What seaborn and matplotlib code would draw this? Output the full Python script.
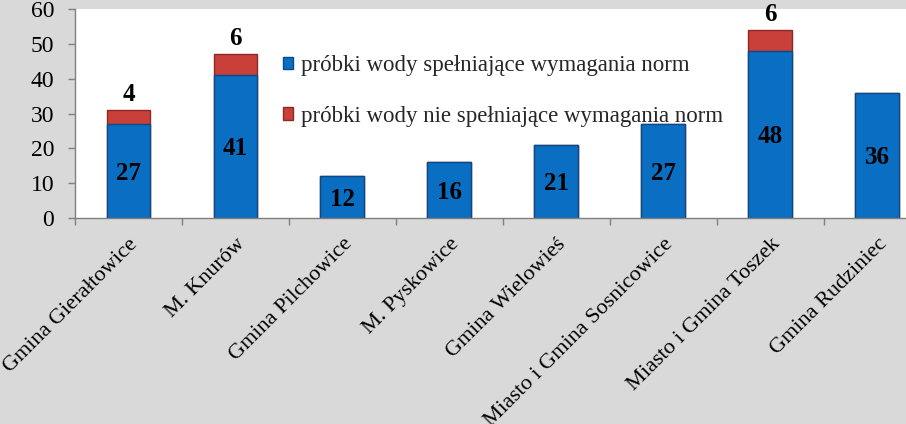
import matplotlib
matplotlib.use("Agg")
import matplotlib.pyplot as plt
import seaborn as sns
import pandas as pd
import numpy as np
from matplotlib.patches import Patch

# dane
gminy = ["Gmina Gierałtowice", "M. Knurów", "Gmina Pilchowice", "M. Pyskowice",
         "Gmina Wielowieś", "Miasto i Gmina Sosnicowice", "Miasto i Gmina Toszek",
         "Gmina Rudziniec"]
spelniajace = [27, 41, 12, 16, 21, 27, 48, 36]
niespelniajace = [4, 6, 0, 0, 0, 0, 6, 0]
legenda = ["próbki wody spełniające wymagania norm",
           "próbki wody nie spełniające wymagania norm"]

df = pd.DataFrame({"gmina": gminy, "ok": spelniajace, "zle": niespelniajace})
df["razem"] = df["ok"] + df["zle"]

sns.set_theme(style="white")
plt.rcParams["font.family"] = ["Liberation Serif", "DejaVu Serif"]
plt.rcParams["font.serif"] = ["Liberation Serif", "DejaVu Serif"]
SERIF = ["Liberation Serif", "DejaVu Serif"]

blue = "#0a6fc2"
red = "#c9403a"

fig = plt.figure(figsize=(9.06, 4.24), dpi=100, facecolor="#d9d9d9")
ax = fig.add_axes([75 / 906, 1 - 218 / 424, 1 - 75 / 906, 209 / 424])
ax.set_facecolor("white")

# czerwone = suma, niebieskie nakladane na wierzch
sns.barplot(data=df, x="gmina", y="razem", color=red, width=0.41, ax=ax,
            edgecolor="#8a2a25", linewidth=1, saturation=1)
sns.barplot(data=df, x="gmina", y="ok", color=blue, width=0.41, ax=ax,
            edgecolor="#0b4a86", linewidth=1, saturation=1)

for i, (v, z) in enumerate(zip(spelniajace, niespelniajace)):
    ax.text(i, v / 2 - 0.6, str(v), ha="center", va="center", fontsize=18,
            fontweight="bold", color="black", family=SERIF)
    if z > 0:
        ax.text(i, v + z + 1.2, str(z), ha="center", va="bottom", fontsize=18,
                fontweight="bold", color="black", family=SERIF)

ax.set_xlim(-0.5, (906 - 129) / 106.9)
ax.set_ylim(0, 60)
ax.set_yticks(range(0, 61, 10))
ax.set_xlabel("")
ax.set_ylabel("")

ax.set_xticks(np.arange(len(gminy)) - 0.5, minor=True)
ax.tick_params(axis="x", which="major", length=0, pad=12)
ax.tick_params(axis="x", which="minor", length=5, color="#808080", width=1,
               direction="out", bottom=True)
ax.tick_params(axis="y", length=5, color="#808080", width=1, direction="out",
               left=True, pad=10)
for lab in ax.get_xticklabels():
    lab.set_rotation(45)
    lab.set_ha("right")
    lab.set_rotation_mode("anchor")
    lab.set_family(SERIF)
    lab.set_fontsize(16)
    lab.set_color("black")
for lab in ax.get_yticklabels():
    lab.set_family(SERIF)
    lab.set_fontsize(17)
    lab.set_color("black")

for s in ["top", "right"]:
    ax.spines[s].set_visible(False)
for s in ["left", "bottom"]:
    ax.spines[s].set_color("#808080")
    ax.spines[s].set_linewidth(1)

handles = [Patch(facecolor=blue, edgecolor="#0b4a86"),
           Patch(facecolor=red, edgecolor="#8a2a25")]
fig.legend(handles, legenda, loc="upper left",
           bbox_to_anchor=(283 / 906, 1 - 55 / 424), frameon=False,
           prop={"family": SERIF, "size": 16.5}, handlelength=0.45,
           handleheight=0.45, handletextpad=0.35, labelspacing=1.3,
           borderpad=0, borderaxespad=0)

fig.savefig("out.png", dpi=100, facecolor=fig.get_facecolor())
